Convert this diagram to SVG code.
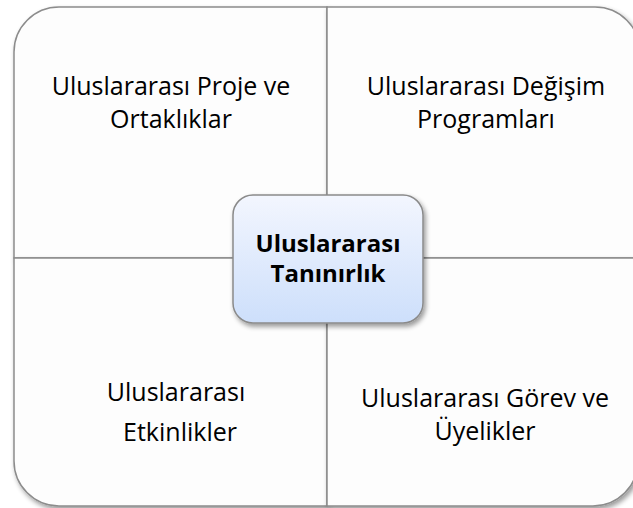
<svg xmlns="http://www.w3.org/2000/svg" width="633" height="508" viewBox="0 0 633 508">
<defs>
<filter id="sh" x="-10%" y="-10%" width="130%" height="130%">
<feGaussianBlur in="SourceAlpha" stdDeviation="2.5"/>
<feOffset dx="2" dy="3" result="b"/>
<feComponentTransfer><feFuncA type="linear" slope="0.4"/></feComponentTransfer>
<feMerge><feMergeNode/><feMergeNode in="SourceGraphic"/></feMerge>
</filter>
<linearGradient id="cg" x1="0" y1="0" x2="0" y2="1">
<stop offset="0" stop-color="#f3f6fe"/>
<stop offset="1" stop-color="#cddffb"/>
</linearGradient>
<style>
.q{fill:#fdfdfd;stroke:#8c8c8c;stroke-width:1.5;filter:url(#sh)}
.t{font-family:"Open Sans","Liberation Sans",sans-serif;font-size:25px;fill:#000;text-anchor:middle}
.c{font-family:"Open Sans","Liberation Sans",sans-serif;font-size:24px;font-weight:bold;fill:#000;text-anchor:middle}
</style>
</defs>
<rect width="633" height="508" fill="#ffffff"/>
<g id="q-tl">
<path class="q" d="M14,258 V52 A45,45 0 0 1 59,7 H327 V258 Z"/>
<text class="t" x="171" y="95">Uluslararası Proje ve</text>
<text class="t" x="171" y="128">Ortaklıklar</text>
</g>
<g id="q-tr">
<path class="q" d="M327,7 H595 A45,45 0 0 1 640,52 V258 H327 Z"/>
<text class="t" x="486" y="95">Uluslararası Değişim</text>
<text class="t" x="486" y="128">Programları</text>
</g>
<g id="q-bl">
<path class="q" d="M14,258 H327 V506 H59 A45,45 0 0 1 14,461 Z"/>
<text class="t" x="176" y="401">Uluslararası</text>
<text class="t" x="180" y="441">Etkinlikler</text>
</g>
<g id="q-br">
<path class="q" d="M327,258 H638 V461 A45,45 0 0 1 593,506 H327 Z"/>
<text class="t" x="485" y="407">Uluslararası Görev ve</text>
<text class="t" x="485" y="440">Üyelikler</text>
</g>
<g id="connectors"></g>
<g id="center">
<rect x="233" y="195" width="190" height="128" rx="20" ry="20" fill="url(#cg)" stroke="#8a8a8a" stroke-width="1.5" filter="url(#sh)"/>
<text class="c" x="328" y="252">Uluslararası</text>
<text class="c" x="328" y="282">Tanınırlık</text>
</g>
</svg>
